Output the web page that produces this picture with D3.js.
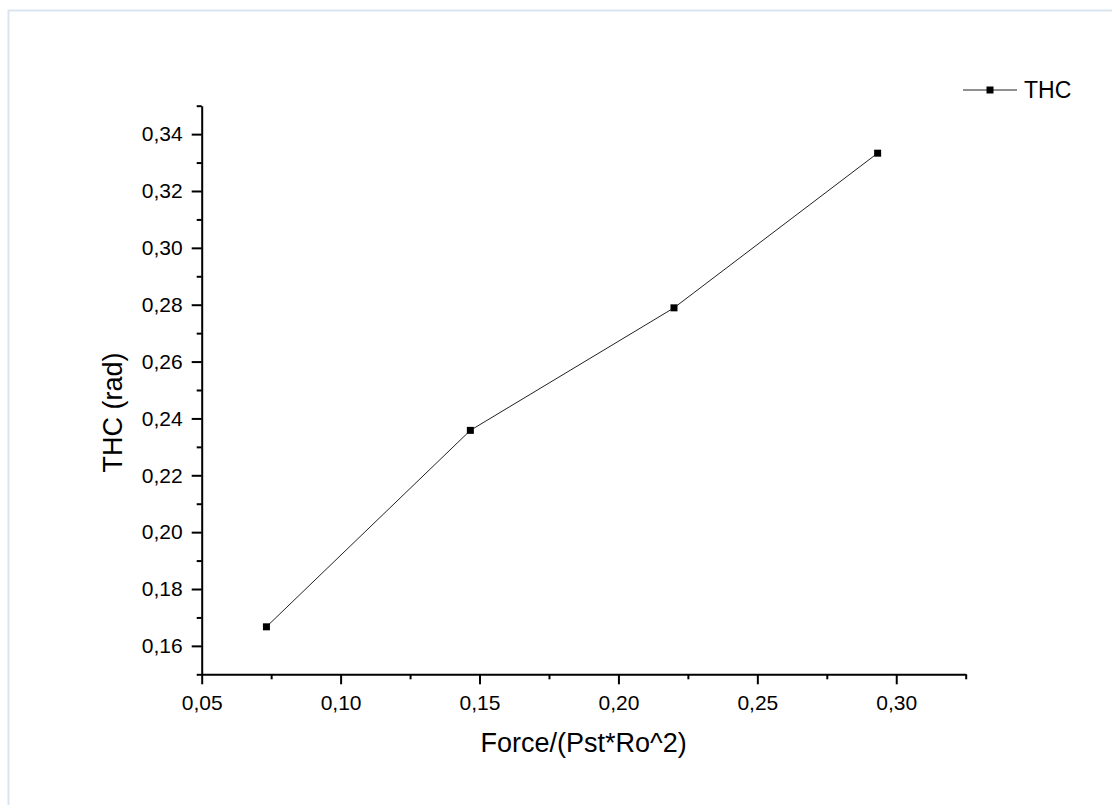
<!DOCTYPE html>
<html>
<head>
<meta charset="utf-8">
<script src="https://cdn.jsdelivr.net/npm/d3@7"></script>
<style>
html,body{margin:0;padding:0;background:#fff;}
svg{display:block;}
text{font-family:Arial,"Liberation Sans",sans-serif;fill:#000;}
</style>
</head>
<body>
<svg id="chart" width="1112" height="805"></svg>
<script>
const xValues = [0.0733, 0.1467, 0.22, 0.2933];
const yValues = [0.1667, 0.2358, 0.2789, 0.3333];
const seriesName = "THC";
const xTicks = [0.05, 0.10, 0.15, 0.20, 0.25, 0.30];
const yTicks = [0.16, 0.18, 0.20, 0.22, 0.24, 0.26, 0.28, 0.30, 0.32, 0.34];
const xMinorTicks = [0.075, 0.125, 0.175, 0.225, 0.275, 0.325];
const yMinorTicks = [0.15, 0.17, 0.19, 0.21, 0.23, 0.25, 0.27, 0.29, 0.31, 0.33, 0.35];
const xTitle = "Force/(Pst*Ro^2)";
const yTitle = "THC (rad)";

(function(){
const svg = d3.select("#chart");
const fmt = d => d3.format(".2f")(d).replace(".", ",");

// frame border (top & left visible)
svg.append("path").attr("d", "M8.5,1200V10.5H1200")
  .attr("fill", "none").attr("stroke", "#dbe5f1").attr("stroke-width", 2);

const pLeft = 201.7, pRight = 965.7, pTop = 105.7, pBottom = 674.3;
const x = d3.scaleLinear().domain([0.05, 0.325]).range([pLeft, pRight]);
const y = d3.scaleLinear().domain([0.15, 0.35]).range([pBottom, pTop]);

function styleAxis(g){
  g.selectAll(".domain").attr("stroke", "#000").attr("stroke-width", 2);
  g.selectAll(".tick line").attr("stroke", "#000").attr("stroke-width", 2);
  g.selectAll("text").attr("font-size", 21).attr("font-family", "Arial, 'Liberation Sans', sans-serif").attr("fill", "#000");
}

// minor ticks
svg.append("g").attr("transform", `translate(0,${pBottom})`)
  .call(d3.axisBottom(x).tickValues(xMinorTicks).tickSize(5).tickFormat("").tickSizeOuter(0))
  .call(g => { styleAxis(g); g.select(".domain").remove(); });
svg.append("g").attr("transform", `translate(${pLeft},0)`)
  .call(d3.axisLeft(y).tickValues(yMinorTicks).tickSize(5).tickFormat("").tickSizeOuter(0))
  .call(g => { styleAxis(g); g.select(".domain").remove(); });

// major axes
svg.append("g").attr("transform", `translate(0,${pBottom})`)
  .call(d3.axisBottom(x).tickValues(xTicks).tickSize(10).tickPadding(11).tickFormat(fmt).tickSizeOuter(0))
  .call(styleAxis);
svg.append("g").attr("transform", `translate(${pLeft},0)`)
  .call(d3.axisLeft(y).tickValues(yTicks).tickSize(10).tickPadding(9).tickFormat(fmt).tickSizeOuter(0))
  .call(styleAxis);

// axis titles
svg.append("text").attr("x", (pLeft + pRight) / 2).attr("y", 752)
  .attr("text-anchor", "middle").attr("font-size", 27).text(xTitle);
svg.append("text").attr("transform", `translate(122,412.5) rotate(-90)`)
  .attr("text-anchor", "middle").attr("font-size", 27).text(yTitle);

// series
const pts = xValues.map((v, i) => [v, yValues[i]]);
svg.append("path").datum(pts)
  .attr("d", d3.line().x(d => x(d[0])).y(d => y(d[1])))
  .attr("fill", "none").attr("stroke", "#222").attr("stroke-width", 1);
svg.selectAll("rect.pt").data(pts).enter().append("rect").attr("class", "pt")
  .attr("x", d => x(d[0]) - 3.5).attr("y", d => y(d[1]) - 3.5)
  .attr("width", 7).attr("height", 7).attr("fill", "#000");

// legend
const lg = svg.append("g");
lg.append("line").attr("x1", 963).attr("x2", 1017).attr("y1", 90).attr("y2", 90)
  .attr("stroke", "#222").attr("stroke-width", 1);
lg.append("rect").attr("x", 986.5).attr("y", 86.5).attr("width", 7).attr("height", 7).attr("fill", "#000");
lg.append("text").attr("x", 1024).attr("y", 98).attr("font-size", 23).text(seriesName);
})();
</script>
</body>
</html>
